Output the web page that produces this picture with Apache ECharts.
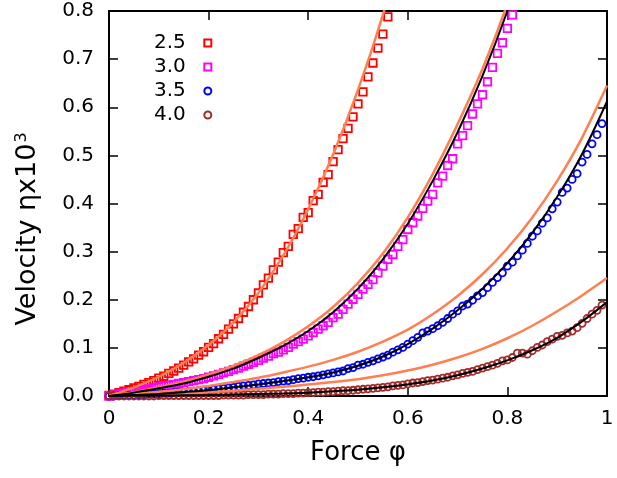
<!DOCTYPE html>
<html>
<head>
<meta charset="utf-8">
<script src="https://cdn.jsdelivr.net/npm/echarts@6/dist/echarts.min.js"></script>
<style>html,body{margin:0;padding:0;background:#fff}#c{width:617px;height:478px}</style>
</head>
<body>
<div id="c"></div>
<script>
// sampling grid of the simulation points (force phi)
const phi = [0,0.01,0.02,0.03,0.04,0.05,0.06,0.07,0.08,0.09,
0.10,0.11,0.12,0.13,0.14,0.15,0.16,0.17,0.18,0.19,
0.20,0.21,0.22,0.23,0.24,0.25,0.26,0.27,0.28,0.29,
0.30,0.31,0.32,0.33,0.34,0.35,0.36,0.37,0.38,0.39,
0.40,0.41,0.42,0.43,0.44,0.45,0.46,0.47,0.48,0.49,
0.50,0.51,0.52,0.53,0.54,0.55,0.56,0.57,0.58,0.59,
0.60,0.61,0.62,0.63,0.64,0.65,0.66,0.67,0.68,0.69,
0.70,0.71,0.72,0.73,0.74,0.75,0.76,0.77,0.78,0.79,
0.80,0.81,0.82,0.83,0.84,0.85,0.86,0.87,0.88,0.89,
0.90,0.91,0.92,0.93,0.94,0.95,0.96,0.97,0.98,0.99];

const legendNames = ['2.5','3.0','3.5','4.0'];

const v25 = [0.001,0.004,0.007,0.010,0.013,0.017,0.020,0.024,0.028,0.032,
0.037,0.041,0.047,0.052,0.058,0.064,0.071,0.077,0.085,0.092,
0.101,0.109,0.119,0.128,0.139,0.150,0.161,0.174,0.186,0.200,
0.214,0.231,0.245,0.262,0.278,0.298,0.311,0.336,0.348,0.371,
0.381,0.406,0.419,0.444,0.460,0.487,0.512,0.535,0.556,0.580,
0.607,0.632,0.663,0.692,0.723,0.752,0.788];

const v30 = [0.000,0.002,0.004,0.006,0.008,0.009,0.011,0.013,0.015,0.017,
0.019,0.021,0.022,0.024,0.026,0.028,0.030,0.032,0.034,0.036,
0.039,0.042,0.045,0.048,0.051,0.055,0.058,0.062,0.066,0.070,
0.074,0.079,0.083,0.088,0.091,0.096,0.101,0.108,0.113,0.118,
0.125,0.132,0.139,0.146,0.153,0.163,0.170,0.180,0.191,0.201,
0.211,0.222,0.232,0.242,0.256,0.270,0.284,0.294,0.311,0.325,
0.346,0.360,0.374,0.390,0.405,0.419,0.443,0.457,0.479,0.493,
0.524,0.541,0.562,0.586,0.607,0.626,0.653,0.683,0.712,0.734,
0.764,0.792];

const v35 = [0.000,0.000,0.001,0.001,0.002,0.002,0.003,0.003,0.004,0.004,
0.005,0.006,0.006,0.007,0.008,0.008,0.009,0.010,0.011,0.012,
0.013,0.014,0.015,0.016,0.017,0.018,0.020,0.021,0.022,0.023,
0.025,0.026,0.027,0.028,0.030,0.031,0.032,0.034,0.036,0.037,
0.039,0.040,0.042,0.044,0.046,0.048,0.050,0.052,0.057,0.059,
0.064,0.066,0.070,0.073,0.077,0.081,0.085,0.091,0.096,0.101,
0.108,0.115,0.122,0.131,0.135,0.140,0.146,0.153,0.161,0.170,
0.177,0.187,0.191,0.199,0.208,0.215,0.225,0.236,0.246,0.256,
0.270,0.278,0.291,0.303,0.317,0.332,0.343,0.359,0.370,0.389,
0.403,0.423,0.432,0.450,0.462,0.486,0.502,0.524,0.543,0.566];

const v40 = [0.000,0.000,0.000,0.000,0.000,0.000,0.000,0.000,0.000,0.000,
0.001,0.001,0.001,0.001,0.001,0.001,0.001,0.001,0.001,0.001,
0.001,0.001,0.001,0.002,0.002,0.002,0.002,0.002,0.003,0.003,
0.003,0.003,0.004,0.004,0.004,0.005,0.005,0.005,0.006,0.006,
0.007,0.007,0.008,0.008,0.009,0.009,0.010,0.011,0.011,0.012,
0.013,0.014,0.015,0.016,0.017,0.018,0.019,0.021,0.022,0.023,
0.025,0.027,0.028,0.030,0.032,0.033,0.035,0.037,0.039,0.042,
0.044,0.047,0.049,0.051,0.055,0.058,0.061,0.064,0.068,0.073,
0.075,0.080,0.089,0.089,0.087,0.094,0.101,0.106,0.113,0.118,
0.124,0.126,0.131,0.135,0.142,0.151,0.161,0.170,0.178,0.189];

// fitted curves sampled every 0.05
const fitPhi = [0,0.05,0.1,0.15,0.2,0.25,0.3,0.35,0.4,0.45,0.5,0.55,0.6,0.65,0.7,0.75,0.8,0.85,0.9,0.95,1.0];
const orange25 = [0,0.018,0.040,0.069,0.106,0.153,0.214,0.292,0.388,0.502,0.636,0.792,0.975];
const orange30 = [0,0.008,0.018,0.030,0.045,0.063,0.085,0.112,0.145,0.185,0.235,0.296,0.371,0.461,0.565,0.680,0.815,0.975];
const black30 = [0,0.007,0.016,0.026,0.040,0.057,0.079,0.104,0.135,0.174,0.223,0.284,0.358,0.447,0.548,0.665,0.800,0.955];
const orange35 = [0,0.004,0.009,0.014,0.021,0.029,0.038,0.049,0.061,0.075,0.092,0.113,0.138,0.170,0.208,0.253,0.307,0.371,0.447,0.537,0.645];
const black35 = [0,0.002,0.004,0.008,0.012,0.018,0.024,0.031,0.039,0.049,0.063,0.082,0.108,0.140,0.178,0.223,0.276,0.339,0.414,0.503,0.612];
const orange40 = [0,0.001,0.003,0.005,0.008,0.011,0.015,0.019,0.024,0.029,0.035,0.043,0.053,0.065,0.080,0.098,0.120,0.146,0.176,0.209,0.245];
const black40 = [0,0.0005,0.001,0.0015,0.002,0.003,0.004,0.005,0.007,0.010,0.013,0.018,0.024,0.032,0.043,0.057,0.074,0.095,0.121,0.155,0.195];

const xTicks = [0,0.2,0.4,0.6,0.8,1];
const yTicks = [0.0,0.1,0.2,0.3,0.4,0.5,0.6,0.7,0.8];

const FONT = 'DejaVu Sans';
const SQUARE = 'path://M0,0H10V10H0Z';
function pair(xs, ys){ return ys.map((y,i)=>[xs[i], y]); }

function scatter(name, ys, color, symbol, size){
  return {name, type:'scatter', data: pair(phi, ys), symbol, symbolSize:size,
    itemStyle:{color:'rgba(0,0,0,0)', borderColor:color, borderWidth:1.8, opacity:1},
    z:2, silent:true};
}
function fit(ys, color, w){
  return {type:'line', data: pair(fitPhi, ys), showSymbol:false, smooth:0.3,
    lineStyle:{color, width:w}, z:5, silent:true, clip:true};
}
const ORANGE = '#ff7f50';

const chart = echarts.init(document.getElementById('c'), null, {renderer:'canvas'});
chart.setOption({
  animation:false,
  backgroundColor:'#fff',
  grid:{left:109, right:10, top:11, bottom:82},
  legend:{
    data: [
      {name:legendNames[0], icon:SQUARE},
      {name:legendNames[1], icon:SQUARE},
      {name:legendNames[2], icon:'circle'},
      {name:legendNames[3], icon:'circle'}
    ],
    orient:'vertical', left:149, top:28, align:'right', symbolKeepAspect:true,
    itemWidth:34, itemHeight:7, itemGap:4,
    textStyle:{fontFamily:FONT, fontSize:20, color:'#000'}
  },
  xAxis:[{
    type:'value', min:0, max:1, interval:0.2, position:'bottom',
    name:'Force φ', nameLocation:'middle', nameGap:44,
    nameTextStyle:{fontFamily:FONT, fontSize:26, color:'#000'},
    axisLine:{show:true, onZero:false, lineStyle:{color:'#000', width:2}},
    axisTick:{show:true, inside:true, length:9, lineStyle:{color:'#000', width:1.5}},
    axisLabel:{fontFamily:FONT, fontSize:20, color:'#000', margin:13,
      formatter:v=>{const t=xTicks.find(a=>Math.abs(a-v)<1e-9); return t===undefined?'':String(t);}},
    splitLine:{show:false}
  },{
    type:'value', min:0, max:1, interval:0.2, position:'top',
    axisLine:{show:true, onZero:false, lineStyle:{color:'#000', width:2}},
    axisTick:{show:true, inside:true, length:9, lineStyle:{color:'#000', width:1.5}},
    axisLabel:{show:false}, splitLine:{show:false}
  }],
  yAxis:[{
    type:'value', min:0, max:0.8, interval:0.1, position:'left',
    axisLine:{show:true, onZero:false, lineStyle:{color:'#000', width:2}},
    axisTick:{show:true, inside:true, length:9, lineStyle:{color:'#000', width:1.5}},
    axisLabel:{fontFamily:FONT, fontSize:20, color:'#000', margin:15,
      formatter:v=>{const t=yTicks.find(a=>Math.abs(a-v)<1e-9); return t===undefined?'':t.toFixed(1);}},
    splitLine:{show:false}
  },{
    type:'value', min:0, max:0.8, interval:0.1, position:'right',
    axisLine:{show:true, onZero:false, lineStyle:{color:'#000', width:2}},
    axisTick:{show:true, inside:true, length:9, lineStyle:{color:'#000', width:1.5}},
    axisLabel:{show:false}, splitLine:{show:false}
  }],
  graphic:[{
    type:'text', x:28, y:229, rotation:Math.PI/2,
    style:{
      text:'{a|Velocity ηx10}{s|3}', align:'center', verticalAlign:'middle',
      rich:{
        a:{fontFamily:FONT, fontSize:27, fill:'#000', color:'#000'},
        s:{fontFamily:FONT, fontSize:16, fill:'#000', color:'#000', verticalAlign:'top', padding:[0,0,12,1]}
      }
    }
  }],
  series:[
    scatter('2.5', v25, '#ff0000', 'rect', 7.5),
    scatter('3.0', v30, '#ff00ff', 'rect', 7.5),
    scatter('3.5', v35, '#0000ff', 'circle', 7),
    scatter('4.0', v40, '#a52a2a', 'circle', 7),
    fit(orange25, ORANGE, 2.5),
    fit(orange30, ORANGE, 2.5),
    fit(orange35, ORANGE, 2.5),
    fit(orange40, ORANGE, 2.5),
    fit(black30, '#000', 2),
    fit(black35, '#000', 2),
    fit(black40, '#000', 2)
  ]
});
</script>
</body>
</html>
